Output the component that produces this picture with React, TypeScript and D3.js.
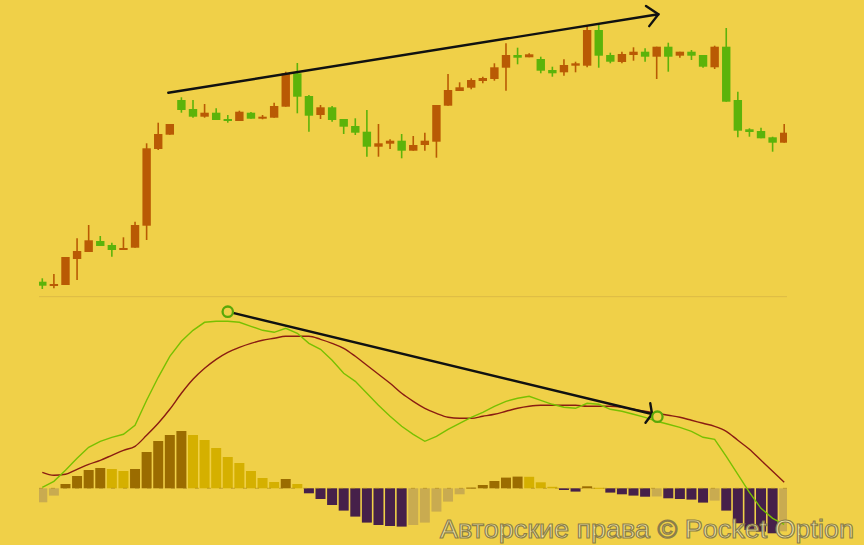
import React, { useRef, useEffect } from 'react';
import * as d3 from 'd3';

// candle prices (arbitrary units), one entry per bar
const opens = [18.3, 14, 15, 41, 48, 59, 55, 50, 52.3, 74.3, 151, 165.3, 200, 191, 183.3, 187.3, 181, 179, 187.3, 181.3, 182.3, 193.3, 226.7, 204, 185, 192.7, 181, 174, 168.3, 153.3, 156.3, 159.3, 149.3, 155, 158.3, 194.3, 209, 212.3, 219, 221, 232.3, 245, 242.7, 241, 230, 227.7, 234.3, 234.3, 270, 245, 238, 245, 248.3, 243.3, 253.3, 244.3, 248.3, 245, 232.7, 253.3, 200, 170.7, 169, 162.7, 157.3];
const highs = [21.7, 26, 43, 61.7, 75, 64, 57.3, 62.7, 78.3, 156.7, 177.3, 176, 202.7, 200, 196, 191.7, 185, 189.3, 188, 185, 197.3, 228.3, 237, 205, 195, 194, 181, 181.7, 190, 176, 160.7, 166, 164, 167.3, 195, 226, 217.7, 221.7, 223.3, 236.7, 256.7, 252.3, 246.7, 243.3, 233.3, 240.7, 238.3, 275, 276.7, 247.3, 248.3, 252.7, 251.7, 253.3, 257.3, 248.3, 250, 245, 254.3, 272, 208.3, 171.7, 172.3, 163.3, 176];
const lows = [11, 11.7, 15, 20, 48, 54, 43.3, 50, 52.3, 60, 150, 165.3, 187.3, 182.3, 182.3, 180, 177.3, 179, 181.3, 180.7, 182.3, 193.3, 186.7, 168.3, 181, 178.3, 166, 165, 143.3, 143.3, 151, 141.7, 149.3, 149.3, 142.3, 194.3, 209, 210.7, 216.7, 219.3, 209.3, 235.7, 242.7, 226.7, 223.3, 224.3, 227.7, 232.7, 232.3, 236.7, 236.7, 239.3, 238.3, 221, 228.3, 242.3, 240, 232.3, 231, 198.3, 162.7, 163.3, 161.7, 148.3, 157.3];
const closes = [14.3, 16, 43, 49, 59.7, 54, 50, 52, 75, 151.7, 166, 176, 190, 183.3, 187.3, 180, 179, 188.3, 181.3, 183.3, 194, 226.7, 203.3, 184.3, 192.7, 180, 173.3, 167.3, 153.3, 156.7, 159.3, 149.3, 155, 159.3, 195, 210, 212.7, 220, 222, 232.7, 245, 242.3, 245.7, 229.3, 226.7, 235, 236.7, 270, 244.3, 238.3, 246, 248.3, 243.3, 253.3, 243.3, 248.3, 244.3, 233.3, 253.3, 198.3, 169.3, 168, 161.7, 157.3, 167.3];

// MACD indicator
const macdLine = [1, 7, 18, 30, 41, 47, 51, 54, 63, 88, 111, 132, 147, 158, 166, 167, 167, 166, 162, 158, 156, 160, 155, 145, 139, 128, 115, 107, 95, 83, 72, 62, 54, 47, 52, 59, 65, 71, 76, 82, 87, 90, 92, 88, 84, 81, 80, 85, 84, 79, 77, 74, 71, 67, 64, 61, 57, 51, 49, 32, 14, -4, -20, -30, -36];
const signalLine = [16, 13, 14, 19, 24, 28, 33, 38, 42, 53, 65, 79, 95, 109, 120, 129, 136, 141, 145, 148, 150, 152, 152, 152, 149, 145, 140, 132, 123, 114, 105, 95, 87, 80, 75, 71, 70, 70, 72, 74, 77, 80, 82, 83, 83, 83, 83, 82, 82, 82, 81, 79, 77, 75, 73, 71, 68, 65, 62, 57, 48, 39, 28, 17, 6];
const histogram = [-14, -7.3, 4.3, 12.3, 18.3, 20.3, 19.3, 17.3, 19.3, 36.3, 47.3, 53.3, 57.3, 53.3, 48.3, 40.3, 31.3, 25.3, 17.3, 10.3, 6.3, 9.3, 4.3, -5, -10.7, -16.7, -22.3, -28.3, -34.3, -36.7, -37.7, -38.3, -36.7, -34.3, -23.3, -13.3, -6, 0.7, 3.3, 7.3, 10.7, 11.7, 11.5, 6, 1.5, -1.7, -3.3, 2, 0.5, -4.3, -6, -7.3, -8.4, -8.2, -10, -10.7, -11.3, -14.3, -12.3, -22.3, -35, -41.7, -43.3, -45, -43];

// divergence annotations (bar index, value)
const priceTrend = [{ i: 10.87, v: 207.3 }, { i: 53.15, v: 285.7 }];
const macdTrend = [{ i: 16.0, v: 176.6 }, { i: 52.6, v: 74.3 }];
const macdMarkers = [{ i: 16.0, v: 176.6 }, { i: 53.06, v: 71.6 }];

const watermark = 'Авторские права © Pocket Option';

const W = 864;
const H = 545;

const App: React.FC = () => {
  const ref = useRef<SVGSVGElement | null>(null);

  useEffect(() => {
    if (!ref.current) return;
    const svg = d3.select(ref.current);
    svg.selectAll('*').remove();

    const bg = '#f0d048';
    const up = '#b95a04';
    const down = '#5cb30a';

    svg.append('rect').attr('width', W).attr('height', H).attr('fill', bg);

    const idx = d3.range(opens.length);
    const x = d3.scaleBand<number>().domain(idx).range([36.5, 790]).padding(0);
    const step = x.step();
    const xc = (i: number) => (x(0) as number) + step / 2 + i * step;

    const yPrice = d3.scaleLinear().domain([0, 300]).range([300, 0]);
    const yMacd = d3.scaleLinear().domain([-60, 200]).range([548.3, 288.3]);

    const clipLeft = 39;
    const clipRight = 787;
    svg.append('defs').append('clipPath').attr('id', 'plot')
      .append('rect').attr('x', clipLeft).attr('y', 0).attr('width', clipRight - clipLeft).attr('height', H);

    const plot = svg.append('g').attr('clip-path', 'url(#plot)');

    // separator between panes
    plot.append('line')
      .attr('x1', clipLeft).attr('x2', clipRight)
      .attr('y1', 296.7).attr('y2', 296.7)
      .attr('stroke', '#dcbb45').attr('stroke-width', 1);

    // candles
    const bodyW = 8.4;
    const candles = plot.append('g').selectAll('g').data(idx).join('g');
    candles.append('line')
      .attr('x1', i => xc(i)).attr('x2', i => xc(i))
      .attr('y1', i => yPrice(highs[i])).attr('y2', i => yPrice(lows[i]))
      .attr('stroke', i => closes[i] >= opens[i] ? up : down)
      .attr('stroke-width', 1.6);
    candles.append('rect')
      .attr('x', i => xc(i) - bodyW / 2)
      .attr('width', bodyW)
      .attr('y', i => yPrice(Math.max(opens[i], closes[i])))
      .attr('height', i => Math.max(2, Math.abs(yPrice(opens[i]) - yPrice(closes[i]))))
      .attr('fill', i => closes[i] >= opens[i] ? up : down);

    // histogram
    const histColor = (i: number) => {
      const v = histogram[i];
      const prev = i > 0 ? histogram[i - 1] : v;
      if (v >= 0) return v > prev ? '#9b6c00' : '#d5b000';
      return v < prev ? '#46204a' : '#c9ab50';
    };
    const barW = step - 1.6;
    plot.append('g').selectAll('rect').data(idx).join('rect')
      .attr('x', i => xc(i) - barW / 2)
      .attr('width', barW)
      .attr('y', i => yMacd(Math.max(0, histogram[i])))
      .attr('height', i => Math.max(1, Math.abs(yMacd(histogram[i]) - yMacd(0))))
      .attr('fill', histColor);

    plot.append('line')
      .attr('x1', clipLeft).attr('x2', clipRight)
      .attr('y1', yMacd(0)).attr('y2', yMacd(0))
      .attr('stroke', '#a8821c').attr('stroke-width', 1)
      .attr('stroke-dasharray', '4 8').attr('opacity', 0.55);

    // MACD and signal lines
    const line = d3.line<number>().x((_, i) => xc(i)).y(d => yMacd(d));
    plot.append('path').datum(signalLine)
      .attr('fill', 'none').attr('stroke', '#8a1c12').attr('stroke-width', 1.4)
      .attr('d', line.curve(d3.curveMonotoneX));
    plot.append('path').datum(macdLine)
      .attr('fill', 'none').attr('stroke', '#78c000').attr('stroke-width', 1.4)
      .attr('d', line.curve(d3.curveLinear));

    // arrows
    const arrow = (pts: { x: number; y: number }[], len: number, spread: number) => {
      const [a, b] = pts;
      const back = Math.atan2(a.y - b.y, a.x - b.x);
      const rad = (spread * Math.PI) / 180;
      const w1 = { x: b.x + len * Math.cos(back + rad), y: b.y + len * Math.sin(back + rad) };
      const w2 = { x: b.x + len * Math.cos(back - rad), y: b.y + len * Math.sin(back - rad) };
      const g = svg.append('g').attr('fill', 'none').attr('stroke', '#111').attr('stroke-width', 2.4)
        .attr('stroke-linecap', 'round').attr('stroke-linejoin', 'round');
      g.append('line').attr('x1', a.x).attr('y1', a.y).attr('x2', b.x).attr('y2', b.y);
      g.append('path').attr('d', `M${w1.x},${w1.y}L${b.x},${b.y}L${w2.x},${w2.y}`);
    };
    arrow(priceTrend.map(p => ({ x: xc(p.i), y: yPrice(p.v) })), 15, 43);
    arrow(macdTrend.map(p => ({ x: xc(p.i), y: yMacd(p.v) })), 11, 67);

    svg.append('g').selectAll('circle').data(macdMarkers).join('circle')
      .attr('cx', d => xc(d.i)).attr('cy', d => yMacd(d.v))
      .attr('r', 5.2)
      .attr('fill', bg)
      .attr('stroke', '#5aa808').attr('stroke-width', 2.3);

    // watermark
    svg.append('text')
      .attr('x', 440).attr('y', 538)
      .attr('font-family', '"Liberation Sans", Arial, sans-serif')
      .attr('font-size', 26)
      .attr('textLength', 414)
      .attr('lengthAdjust', 'spacingAndGlyphs')
      .attr('fill', '#f1e8ae')
      .attr('fill-opacity', 0.92)
      .attr('stroke', '#857846')
      .attr('stroke-opacity', 0.95)
      .attr('stroke-width', 1.2)
      .text(watermark);
  }, []);

  return (
    <svg
      ref={ref}
      width={W}
      height={H}
      style={{ position: 'fixed', left: 0, top: 0, display: 'block' }}
    />
  );
};

export default App;
